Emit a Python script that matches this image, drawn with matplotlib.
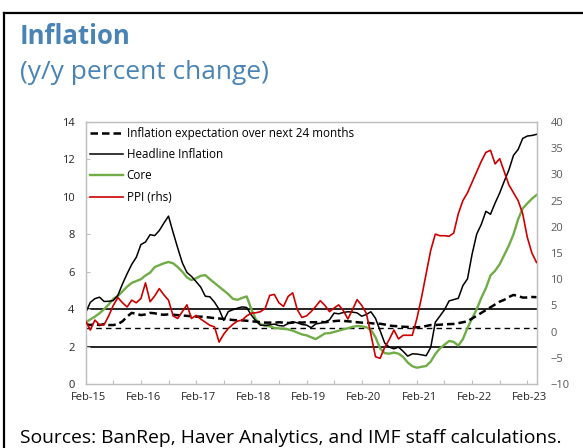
import matplotlib
matplotlib.use("Agg")
import matplotlib.pyplot as plt
from matplotlib.lines import Line2D
import numpy as np

# Monthly data Jan-15 .. Mar-23
headline = [3.82, 4.36, 4.56, 4.64, 4.41, 4.42, 4.46, 4.74, 5.35, 5.89, 6.39, 6.77,
            7.45, 7.59, 7.98, 7.93, 8.20, 8.60, 8.97, 8.10, 7.27, 6.48, 5.96, 5.75,
            5.47, 5.18, 4.69, 4.66, 4.37, 3.99, 3.40, 3.87, 3.97, 4.05, 4.12, 4.09,
            3.68, 3.37, 3.14, 3.13, 3.16, 3.20, 3.12, 3.10, 3.23, 3.33, 3.27, 3.18,
            3.15, 3.01, 3.21, 3.25, 3.31, 3.43, 3.79, 3.75, 3.82, 3.86, 3.84, 3.80,
            3.62, 3.72, 3.86, 3.51, 2.85, 2.19, 1.97, 1.88, 1.97, 1.75, 1.49, 1.61,
            1.60, 1.56, 1.51, 1.95, 3.30, 3.63, 3.97, 4.44, 4.51, 4.58, 5.26, 5.62,
            6.94, 8.01, 8.53, 9.23, 9.07, 9.67, 10.21, 10.84, 11.44, 12.22, 12.53, 13.12,
            13.25, 13.28, 13.34]

core = [3.30, 3.45, 3.60, 3.78, 4.00, 4.25, 4.55, 4.70, 4.95, 5.20, 5.40, 5.50,
        5.60, 5.80, 5.95, 6.25, 6.35, 6.45, 6.52, 6.45, 6.25, 6.00, 5.70, 5.55,
        5.65, 5.78, 5.82, 5.60, 5.40, 5.20, 5.00, 4.80, 4.55, 4.50, 4.60, 4.68,
        4.00, 3.45, 3.20, 3.12, 3.08, 3.00, 2.97, 2.95, 2.92, 2.85, 2.75, 2.65,
        2.60, 2.50, 2.40, 2.55, 2.70, 2.72, 2.78, 2.85, 2.92, 2.98, 3.05, 3.10,
        3.08, 3.03, 2.90, 2.50, 1.90, 1.65, 1.62, 1.68, 1.62, 1.45, 1.15, 0.95,
        0.87, 0.92, 0.96, 1.20, 1.60, 1.90, 2.10, 2.30, 2.25, 2.05, 2.40, 3.00,
        3.50, 4.00, 4.60, 5.12, 5.80, 6.05, 6.40, 6.90, 7.40, 8.00, 8.80, 9.38,
        9.65, 9.90, 10.10]

expectation = [3.20, 3.15, 3.20, 3.15, 3.20, 3.15, 3.15, 3.20, 3.35, 3.60, 3.80, 3.75,
               3.68, 3.72, 3.80, 3.78, 3.72, 3.70, 3.72, 3.70, 3.68, 3.66, 3.64, 3.62,
               3.60, 3.60, 3.58, 3.55, 3.52, 3.50, 3.48, 3.45, 3.42, 3.40, 3.40, 3.38,
               3.35, 3.33, 3.30, 3.28, 3.28, 3.27, 3.30, 3.28, 3.26, 3.28, 3.30, 3.28,
               3.30, 3.30, 3.30, 3.32, 3.30, 3.33, 3.36, 3.38, 3.37, 3.35, 3.33, 3.30,
               3.28, 3.28, 3.25, 3.22, 3.22, 3.18, 3.12, 3.10, 3.08, 3.06, 3.05, 3.03,
               3.03, 3.05, 3.10, 3.15, 3.15, 3.17, 3.18, 3.20, 3.21, 3.25, 3.30, 3.35,
               3.50, 3.65, 3.80, 3.95, 4.10, 4.25, 4.40, 4.50, 4.65, 4.76, 4.70, 4.62,
               4.62, 4.65, 4.64]

ppi = [2.0, 0.3, 2.2, 1.3, 1.3, 3.0, 5.0, 6.5, 5.5, 4.7, 6.0, 5.5,
       6.3, 9.3, 5.7, 6.8, 8.2, 7.0, 6.0, 3.0, 2.5, 3.8, 5.1, 2.5,
       3.1, 2.4, 1.8, 1.2, 0.9, -2.0, -0.5, 0.6, 1.4, 2.0, 2.2, 3.0,
       3.5, 3.6, 3.8, 4.4, 6.9, 7.1, 5.5, 4.8, 6.7, 7.4, 4.2, 2.7,
       3.0, 3.8, 4.8, 5.9, 5.0, 3.8, 4.5, 5.1, 4.0, 2.4, 4.2, 6.1,
       5.0, 3.5, -0.5, -4.8, -5.1, -3.0, -1.5, 0.3, -1.4, -0.7, -0.7, -0.7,
       2.5, 6.5, 11.0, 15.5, 18.6, 18.3, 18.3, 18.2, 18.8, 22.5, 25.0, 26.5,
       28.5, 30.5, 32.5, 34.2, 34.6, 32.0, 33.0, 30.5, 28.0, 26.5, 25.0, 22.5,
       18.0, 15.0, 13.2]

tick_labels = ["Feb-15", "Feb-16", "Feb-17", "Feb-18", "Feb-19",
               "Feb-20", "Feb-21", "Feb-22", "Feb-23"]
target_band = [2, 4]
target_mid = 3

FONT = ["Open Sans", "DejaVu Sans"]
plt.rcParams["font.family"] = FONT

fig = plt.figure(figsize=(5.83, 4.48), dpi=100)
W, H = 583, 448
ax = fig.add_axes([85.7 / W, (H - 384) / H, (536.5 - 85.7) / W, (384 - 122) / H])
ax2 = ax.twinx()

x = np.arange(len(headline))
GREEN = "#70AD47"
RED = "#CC0000"

for v in target_band:
    ax.axhline(v, color="black", lw=1.2, zorder=1)
ax.axhline(target_mid, color="black", lw=1.0, ls=(0, (4, 3)), zorder=1)

ax.plot(x, core, color=GREEN, lw=1.7, zorder=2)
ax.plot(x, headline, color="black", lw=1.1, zorder=3)
ax.plot(x, expectation, color="black", lw=1.8, ls=(0, (3, 1.6)), zorder=4)
ax2.plot(x, ppi, color=RED, lw=1.2, zorder=5)

ax.set_xlim(0, len(headline) - 1)
ax.set_ylim(0, 14)
ax.set_yticks(range(0, 15, 2))
ax2.set_ylim(-10, 40)
ax2.set_yticks(range(-10, 41, 5))

ax.set_xticks([0.5 + 12 * k for k in range(len(tick_labels))])
ax.set_xticklabels(tick_labels)
ax.set_xticks(np.arange(0, len(headline), 6), minor=True)
ax.tick_params(axis="x", which="major", length=0, pad=6, labelsize=8, colors="#262626")
ax.tick_params(axis="x", which="minor", length=3, direction="in", color="#BFBFBF", width=0.8)
ax.tick_params(axis="y", length=3, direction="in", color="#BFBFBF", width=0.8,
               labelsize=8, pad=8)
for lab in ax.get_yticklabels():
    lab.set_color("#262626")
ax2.tick_params(axis="y", length=0, labelsize=8, pad=10, labelcolor="#595959")

for a in (ax, ax2):
    for s in a.spines.values():
        s.set_color("#BFBFBF")
        s.set_linewidth(0.9)

handles = [
    Line2D([], [], color="black", lw=1.8, ls=(0, (3, 1.6))),
    Line2D([], [], color="black", lw=1.1),
    Line2D([], [], color=GREEN, lw=1.7),
    Line2D([], [], color=RED, lw=1.2),
]
labels = ["Inflation expectation over next 24 months", "Headline Inflation",
          "Core", "PPI (rhs)"]
leg = ax.legend(handles, labels, loc="upper left", bbox_to_anchor=(0.0, 1.0),
                frameon=False, fontsize=8.4, handlelength=2.8, handletextpad=0.3,
                labelspacing=0.72, borderaxespad=0.0)
leg.set_zorder(10)

BLUE = "#4A84B4"
fig.text(20 / W, 1 - 44 / H, "Inflation", fontsize=18.5, fontweight="bold",
         color=BLUE, ha="left", va="baseline")
fig.text(20 / W, 1 - 79 / H, "(y/y percent change)", fontsize=19,
         color=BLUE, ha="left", va="baseline")
fig.text(20 / W, 1 - 443 / H, "Sources: BanRep, Haver Analytics, and IMF staff calculations.",
         fontsize=13.9, color="black", ha="left", va="baseline")

# outer frame: top and left edges
fig.add_artist(Line2D([4 / W, 4 / W], [0, 1 - 13 / H], color="black", lw=1.6,
                      transform=fig.transFigure))
fig.add_artist(Line2D([4 / W, 582 / W], [1 - 13 / H, 1 - 13 / H], color="black", lw=1.6,
                      transform=fig.transFigure))

fig.savefig("out.png", dpi=100)
